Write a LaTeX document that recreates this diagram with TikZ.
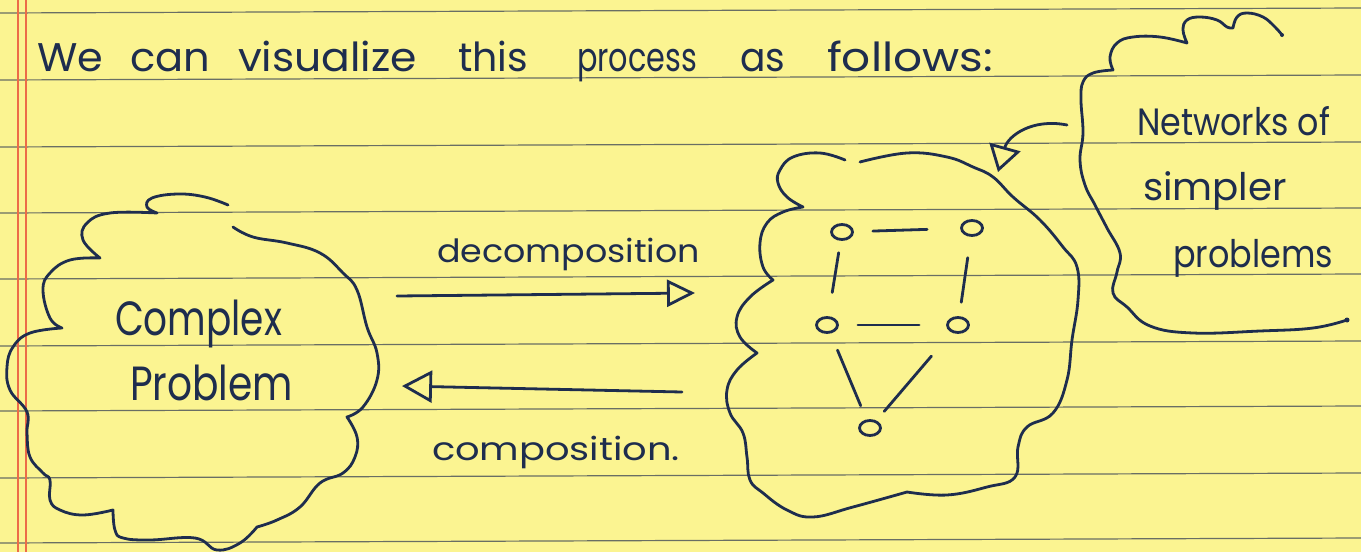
\documentclass[tikz,border=0pt]{standalone}
\usepackage{fontspec}
\usepackage{graphicx}
\setmainfont{Poppins}
\usetikzlibrary{arrows.meta,shapes.geometric}
\definecolor{paper}{RGB}{251,244,145}
\definecolor{ruling}{RGB}{105,110,100}
\definecolor{marginred}{RGB}{236,108,72}
\definecolor{ink}{RGB}{30,45,78}
\newcommand\fitw[2]{\resizebox{#1pt}{\height}{#2}}
\begin{document}
\begin{tikzpicture}[x=1pt,y=-1pt,
  hand/.style={draw=ink,line width=2.8pt,line cap=round,line join=round},
  txt/.style={anchor=base west,inner sep=0pt,outer sep=0pt,text=ink},
  gn/.style={draw=ink,line width=2.8pt,ellipse,minimum width=21pt,minimum height=15pt,inner sep=0pt}
]
\useasboundingbox (0,0) rectangle (1361,552);
\fill[paper] (0,0) rectangle (1361,552);
\foreach \y in {13,80,147,213,279,346,411,478,543}
  \draw[ruling,line width=1.2pt] (0,\y) -- (1361,\y-5);
\draw[marginred,line width=1.4pt] (18,0) -- (18,552);
\draw[marginred,line width=1.4pt] (26,0) -- (26,552);

% title
\begin{scope}[font=\fontsize{40}{40}\selectfont]
\node[txt] (w1) at (37,71) {\fitw{66}{We}};
\node[txt] (w2) at (130,71) {\fitw{80}{can}};
\node[txt] (w3) at (238,71) {\fitw{179}{visualize}};
\node[txt] (w4) at (458,71) {\fitw{70}{this}};
\node[txt] (w5) at (577,71) {\fitw{120}{process}};
\node[txt] (w6) at (740,71) {\fitw{45}{as}};
\node[txt] (w7) at (827,71) {\fitw{166}{follows:}};
\end{scope}

% left cloud
\draw[hand]
  plot[smooth,tension=0.7] coordinates {(228,205) (205,197) (178,194) (152,198) (147,207) (157,213)}
  -- plot[smooth,tension=0.7] coordinates {(157,213) (110,213) (87,223) (83,240) (100,258)}
  -- plot[smooth,tension=0.7] coordinates {(100,258) (70,260) (50,273) (43,290) (50,318) (62,328)}
  -- plot[smooth,tension=0.7] coordinates {(62,328) (30,333) (13,347) (7,367) (10,390) (27,412) (27,433) (30,457) (43,473) (50,480) (50,500) (60,510) (83,515) (113,510)}
  -- plot[smooth,tension=0.7] coordinates {(113,510) (115,530) (123,538) (150,540) (195,538) (217,550) (240,543) (257,527)}
  -- plot[smooth,tension=0.7] coordinates {(257,527) (277,520) (300,507) (320,483) (343,473) (355,457) (357,437) (347,417)}
  -- plot[smooth,tension=0.7] coordinates {(347,417) (363,407) (377,380) (377,353) (367,327) (357,290) (343,273) (320,253) (287,243) (253,237) (233,227)};

\node[txt,font=\fontsize{48}{48}\selectfont] (cx) at (115,335) {\fitw{167}{Complex}};
\node[txt,font=\fontsize{48}{48}\selectfont] (pb) at (130,400) {\fitw{163}{Problem}};

% arrows
\coordinate (d1) at (397,296);
\coordinate (d2) at (695,293);
\coordinate (c1) at (682,392);
\coordinate (c2) at (402,386);
\draw[hand,-{Triangle[open,length=28pt,width=27pt]}] (d1) -- (d2);
\draw[hand,-{Triangle[open,length=30pt,width=32pt]}] (c1) -- (c2);
\node[txt,font=\fontsize{32}{32}\selectfont] (dec) at (437,262) {\fitw{263}{decomposition}};
\node[txt,font=\fontsize{32}{32}\selectfont] (com) at (432,460) {\fitw{248}{composition.}};

% right cloud
\draw[hand]
  plot[smooth,tension=0.7] coordinates {(845,160) (820,153) (793,157) (780,170) (778,183) (787,197) (803,207)}
  -- plot[smooth,tension=0.7] coordinates {(803,207) (783,212) (767,223) (760,243) (763,267) (773,280)}
  -- plot[smooth,tension=0.7] coordinates {(773,280) (750,297) (737,317) (740,337) (757,353)}
  -- plot[smooth,tension=0.7] coordinates {(757,353) (737,370) (727,390) (730,413) (743,433) (747,457) (750,480) (763,493) (787,510) (813,517) (853,507) (907,492)}
  -- plot[smooth,tension=0.7] coordinates {(907,492) (947,495) (987,487) (1015,477) (1018,447) (1027,427) (1053,413) (1067,380) (1072,340) (1078,300) (1077,267) (1063,247) (1040,220) (1013,197) (993,177) (973,167) (947,157) (907,153) (860,162)};

% network
\node[gn] (a) at (842,232) {};
\node[gn] (b) at (972,228) {};
\node[gn] (c) at (827,325) {};
\node[gn] (d) at (958,325) {};
\node[gn] (e) at (870,428) {};
\draw[hand,shorten <=19pt,shorten >=33pt] (a) -- (b);
\draw[hand,shorten <=12pt,shorten >=24pt] (a) -- (c);
\draw[hand,shorten <=21pt,shorten >=14pt] (b) -- (d);
\draw[hand,shorten <=19pt,shorten >=27pt] (c) -- (d);
\draw[hand,shorten <=18pt,shorten >=15pt] (c) -- (e);
\draw[hand,shorten <=31pt,shorten >=12pt] (d) -- (e);

% note cloud
\draw[hand]
  plot[smooth,tension=0.7] coordinates {(1282,35) (1275,27) (1263,17) (1247,13) (1237,17) (1233,28)}
  -- plot[smooth,tension=0.7] coordinates {(1233,28) (1227,27) (1217,20) (1200,17) (1187,20) (1183,30) (1187,43)}
  -- plot[smooth,tension=0.7] coordinates {(1187,43) (1160,37) (1133,37) (1117,43) (1110,57) (1113,70)}
  -- plot[smooth,tension=0.7] coordinates {(1113,70) (1093,73) (1083,82) (1081,100) (1083,133) (1080,160) (1085,185) (1095,205) (1107,228) (1120,253) (1117,272) (1113,293) (1127,307) (1150,326) (1193,333) (1260,331) (1313,328) (1347,320)};
\fill[ink] (1347,320) circle (2.5pt);
\fill[ink] (1282,35) circle (2pt);

\node[txt,font=\fontsize{38}{38}\selectfont] (n1) at (1137,135) {\fitw{193}{Networks of}};
\node[txt,font=\fontsize{38}{38}\selectfont] (n2) at (1143,200) {\fitw{144}{simpler}};
\node[txt,font=\fontsize{38}{38}\selectfont] (n3) at (1173,267) {\fitw{160}{problems}};

\coordinate (p1) at (1067,125);
\coordinate (p2) at (998,172);
\draw[hand,-{Triangle[open,length=26pt,width=32pt]}] (p1) .. controls (1032,118) and (1008,136) .. (p2);
\end{tikzpicture}
\end{document}
